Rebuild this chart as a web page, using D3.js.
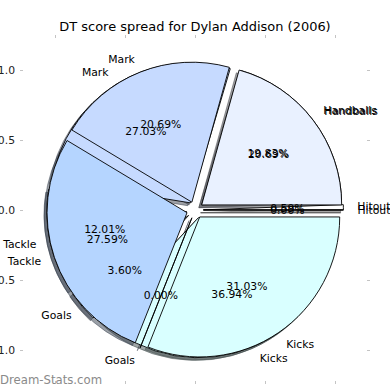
<!DOCTYPE html>
<html>
<head>
<meta charset="utf-8">
<script src="https://cdn.jsdelivr.net/npm/d3@7"></script>
<style>
  html, body { margin: 0; padding: 0; background: #fff; }
  svg { display: block; font-family: "DejaVu Sans", sans-serif; }
</style>
</head>
<body>
<div id="chart"></div>
<script>
// ---- data ----
const categories = ["Hitouts", "Handballs", "Mark", "Tackle", "Goals", "Kicks"];
const colors     = ["#ffffff", "#e9f1ff", "#c6daff", "#b5d5ff", "#cce4ff", "#d9ffff"];
// lower pie (drawn first)
const valuesB = [0.59, 19.83, 27.03, 12.01, 3.60, 36.94];
const pctB    = ["0.59%", "19.83%", "27.03%", "12.01%", "3.60%", "36.94%"];
// upper pie (drawn on top)
const valuesA = [0, 20.69, 20.69, 27.59, 0, 31.03];
const pctA    = ["0.00%", "20.69%", "20.69%", "27.59%", "0.00%", "31.03%"];
const xTicks = [-1.0, -0.5, 0.0, 0.5, 1.0];
const yTicks = [-1.0, -0.5, 0.0, 0.5, 1.0];
const title = "DT score spread for Dylan Addison (2006)";
const watermark = "Dream-Stats.com";
const explode = 0.06;

const W = 390, H = 390;
const svg = d3.select("#chart").append("svg").attr("width", W).attr("height", H);

const x = d3.scaleLinear().domain([-1.25, 1.25]).range([20, 370]);
const y = d3.scaleLinear().domain([-1.25, 1.25]).range([385, 35]);
const R = x(1) - x(0);
const cx = x(0), cy = y(0);

// title
svg.append("text").attr("x", 195).attr("y", 26)
  .attr("text-anchor", "middle").attr("dominant-baseline", "central")
  .attr("font-size", 12.96).attr("fill", "#000").text(title);

// ticks
const tickCol = "#c4c4c4";
const tg = svg.append("g").attr("stroke", tickCol).attr("stroke-width", 1);
xTicks.forEach(t => {
  tg.append("line").attr("x1", Math.round(x(t)) + 0.5).attr("x2", Math.round(x(t)) + 0.5).attr("y1", 35).attr("y2", 38);
  tg.append("line").attr("x1", Math.round(x(t)) + 0.5).attr("x2", Math.round(x(t)) + 0.5).attr("y1", 381).attr("y2", 384);
});
yTicks.forEach(t => {
  tg.append("line").attr("y1", Math.round(y(t)) + 0.5).attr("y2", Math.round(y(t)) + 0.5).attr("x1", 20).attr("x2", 23);
  tg.append("line").attr("y1", Math.round(y(t)) + 0.5).attr("y2", Math.round(y(t)) + 0.5).attr("x1", 367).attr("x2", 370);
});
const fmt = d3.format(".1f");
yTicks.forEach(t => {
  svg.append("text").attr("x", 15).attr("y", y(t))
    .attr("text-anchor", "end").attr("dominant-baseline", "central")
    .attr("font-size", 10.8).attr("fill", "#222").text(fmt(t).replace("-", "\u2212"));
});
xTicks.forEach(t => {
  svg.append("text").attr("x", x(t)).attr("y", 394)
    .attr("text-anchor", "middle").attr("dominant-baseline", "central")
    .attr("font-size", 10.8).attr("fill", "#222").text(fmt(t).replace("-", "\u2212"));
});

// pie geometry
const pie = d3.pie().sort(null).startAngle(Math.PI / 2).endAngle(Math.PI / 2 - 2 * Math.PI);
const arc = d3.arc().innerRadius(0).outerRadius(R);

function layout(values) {
  return pie(values).map((a, i) => {
    const m = (a.startAngle + a.endAngle) / 2;
    const off = explode * R;
    return { a, i, m, dx: off * Math.sin(m), dy: -off * Math.cos(m) };
  });
}
const LB = layout(valuesB), LA = layout(valuesA);

function shade(c) {
  const r = d3.rgb(c);
  return d3.rgb(r.r * 0.3, r.g * 0.3, r.b * 0.3).toString();
}

// shadows (all under every wedge)
const shadowG = svg.append("g");
[LB, LA].forEach(L => {
  L.forEach(d => {
    shadowG.append("path")
      .attr("d", arc(d.a))
      .attr("transform", `translate(${cx + d.dx - 0.02 * R},${cy + d.dy + 0.02 * R})`)
      .attr("fill", shade(colors[d.i])).attr("fill-opacity", 0.5)
      .attr("stroke", shade(colors[d.i])).attr("stroke-opacity", 0.5).attr("stroke-width", 1);
  });
});

// wedges
const wedgeG = svg.append("g");
[LB, LA].forEach(L => {
  L.forEach(d => {
    wedgeG.append("path")
      .attr("d", arc(d.a))
      .attr("transform", `translate(${cx + d.dx},${cy + d.dy})`)
      .attr("fill", colors[d.i]).attr("stroke", "#000").attr("stroke-width", 0.9)
      .attr("stroke-linejoin", "miter");
  });
});

// labels
const textG = svg.append("g").attr("font-size", 10.8).attr("fill", "#000");
[[LB, pctB], [LA, pctA]].forEach(([L, pcts]) => {
  L.forEach(d => {
    const ox = cx + d.dx, oy = cy + d.dy;
    const lx = ox + 1.1 * R * Math.sin(d.m), ly = oy - 1.1 * R * Math.cos(d.m);
    textG.append("text").attr("x", lx).attr("y", ly)
      .attr("text-anchor", lx > cx ? "start" : "end").attr("dominant-baseline", "central")
      .text(categories[d.i]);
    const px = ox + 0.6 * R * Math.sin(d.m), py = oy - 0.6 * R * Math.cos(d.m);
    textG.append("text").attr("x", px).attr("y", py)
      .attr("text-anchor", "middle").attr("dominant-baseline", "central")
      .text(pcts[d.i]);
  });
});

// watermark
svg.append("text").attr("x", 0).attr("y", 380)
  .attr("dominant-baseline", "central").attr("font-size", 11.7)
  .attr("fill", "#8a8a8a").text(watermark);
</script>
</body>
</html>
